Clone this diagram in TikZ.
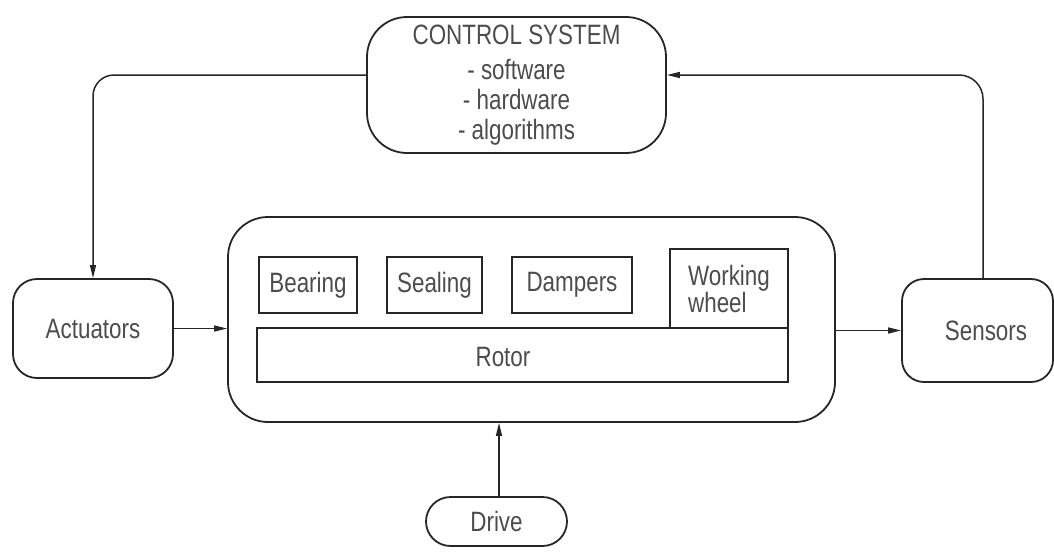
\documentclass[tikz,border=0pt]{standalone}
\usepackage{fontspec}
\setmainfont{Liberation Sans}[FakeStretch=0.8]
\usetikzlibrary{arrows.meta,calc}
\begin{document}
\begin{tikzpicture}[x=1pt,y=-1pt,
  txt/.style={text=black!70, font=\fontsize{28}{30}\selectfont},
  rbox/.style={draw=black!85, line width=1.8pt, rounded corners=#1, inner sep=0pt, txt},
  sbox/.style={draw=black!85, line width=1.6pt, inner sep=0pt, txt},
  arr/.style={draw=black!85, line width=1.5pt, -{Triangle[length=13pt,width=6pt]}}
]
\useasboundingbox (0,0) rectangle (1054,552);

% control system
\node[rbox=40, minimum width=299pt, minimum height=136pt, align=center] (cs) at (516.5,85)
  {\rule{0pt}{0pt}CONTROL SYSTEM\\[5pt] - software\\ - hardware\\ - algorithms};

% actuators and sensors
\node[rbox=24, minimum width=160pt, minimum height=99pt] (act) at (93,328.5) {Actuators};
\node[rbox=22, minimum width=151pt, minimum height=103pt] (sens) at (977.5,330.5) {\hspace*{17pt}Sensors};

% main box
\node[rbox=40, minimum width=607pt, minimum height=205pt] (big) at (531.5,319.5) {};

% inner boxes
\node[sbox, minimum width=98pt, minimum height=56pt] (bear) at (308,285) {Bearing};
\node[sbox, minimum width=95pt, minimum height=56pt] (seal) at (434.5,285) {Sealing};
\node[sbox, minimum width=120pt, minimum height=56pt] (damp) at (572,285) {Dampers};
\node[sbox, minimum width=118pt, minimum height=79pt, align=left, font=\fontsize{28}{27}\selectfont] (ww) at (729,288.5) {Working\\wheel};
\node[sbox, minimum width=531pt, minimum height=54pt] (rotor) at (522.5,355) {};
\node[txt] (rotorlbl) at (503,357) {Rotor};

% drive
\node[rbox=24.5, minimum width=141pt, minimum height=49pt] (drive) at (496.5,521.5) {Drive};

% connectors
\draw[arr, rounded corners=21pt] ($(cs.west)+(0,-10)$) -| (act.north);
\draw[arr, rounded corners=24pt] ($(sens.north)+(5.5,0)$) |- ($(cs.east)+(0,-10)$);
\draw[arr] (act.east) -- (big.west |- act.east);
\draw[arr] (big.east |- sens.west) -- (sens.west);
\draw[arr] ($(drive.north)+(2.5,0)$) -- ($(drive.north |- big.south)+(2.5,0)$);
\end{tikzpicture}
\end{document}
